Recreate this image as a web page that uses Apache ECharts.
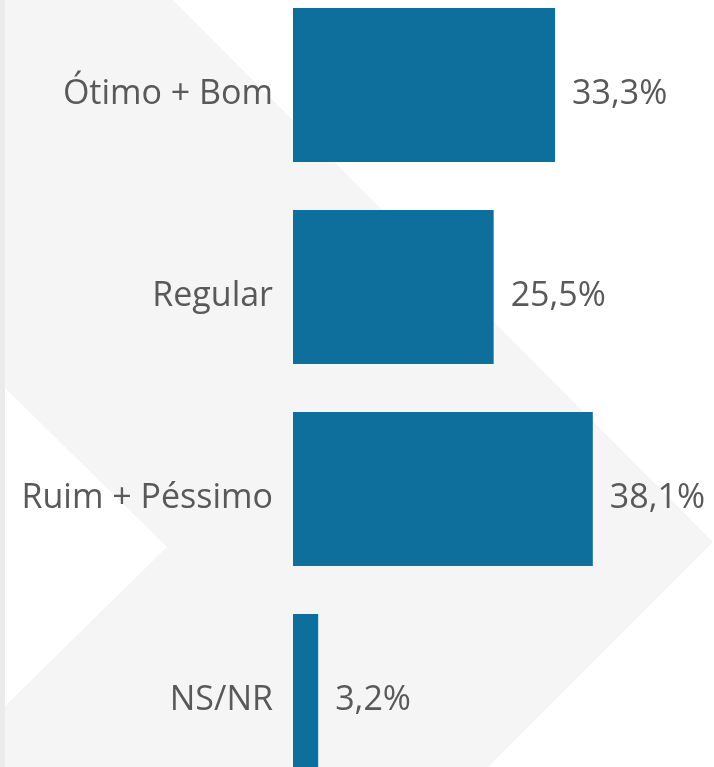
<!DOCTYPE html>
<html>
<head>
<meta charset="utf-8">
<script src="https://cdn.jsdelivr.net/npm/echarts@6/dist/echarts.min.js"></script>
<style>
  html, body { margin: 0; padding: 0; background: #ffffff; overflow: hidden; }
  #chart { width: 714px; height: 808px; margin-top: -16px; }
</style>
</head>
<body>
<div id="chart"></div>
<script>
var categories = ['Ótimo + Bom', 'Regular', 'Ruim + Péssimo', 'NS/NR'];
var values = [33.3, 25.5, 38.1, 3.2];

var myChart = echarts.init(document.getElementById('chart'));

function formatPct(v) {
	return v.toFixed(1).replace('.', ',') + '%';
}

// o div começa 16px acima da janela
var dy = 16;

var option = {
	backgroundColor: '#ffffff',
	animation: false,
	graphic: [
		{
			// faixa cinza em forma de seta
			type: 'polygon',
			z: -10,
			silent: true,
			shape: { points: [[0, 0 + dy], [173, 0 + dy], [713, 542 + dy], [488, 767 + dy], [0, 767 + dy], [0, 711 + dy], [167, 547 + dy], [0, 383 + dy]] },
			style: { fill: '#f5f5f5' }
		},
		{
			type: 'rect',
			z: -9,
			silent: true,
			shape: { x: 0, y: 0, width: 5, height: 808 },
			style: { fill: '#ebebeb' }
		}
	],
	grid: { left: 293, right: 0, top: 0, bottom: 0, containLabel: false },
	xAxis: {
		type: 'value',
		min: 0,
		max: 53.5,
		show: false
	},
	yAxis: {
		type: 'category',
		data: categories,
		inverse: true,
		axisLine: { show: false },
		axisTick: { show: false },
		axisLabel: {
			margin: 20,
			color: '#595959',
			fontFamily: 'Open Sans',
			fontSize: 34,
			verticalAlign: 'top',
			lineHeight: 18
		}
	},
	series: [
		{
			type: 'bar',
			data: values,
			barWidth: 154,
			itemStyle: { color: '#0e6e9c' },
			label: {
				show: true,
				position: 'right',
				distance: 17,
				offset: [0, 9],
				color: '#595959',
				fontFamily: 'Open Sans',
				fontSize: 34,
				formatter: function (p) { return formatPct(p.value); }
			}
		}
	]
};

myChart.setOption(option);
</script>
</body>
</html>
